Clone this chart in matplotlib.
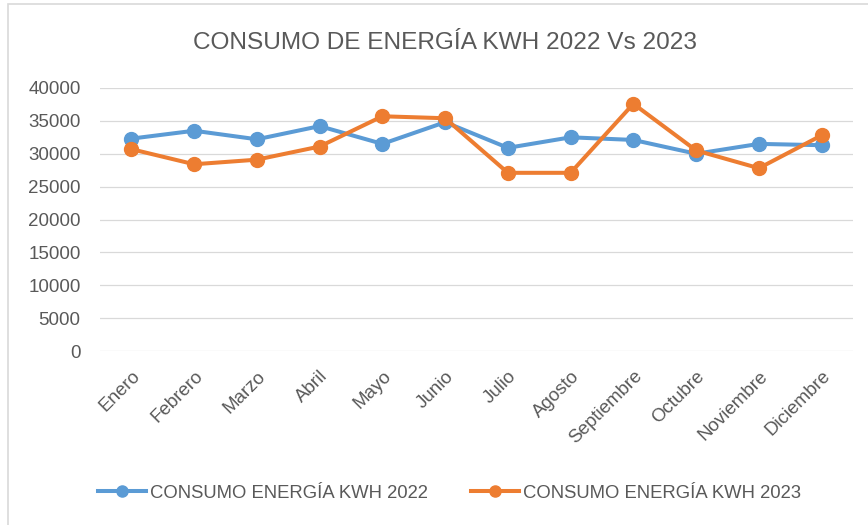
import matplotlib
matplotlib.use('Agg')
import matplotlib.pyplot as plt
from matplotlib.patches import Rectangle

meses = ['Enero', 'Febrero', 'Marzo', 'Abril', 'Mayo', 'Junio', 'Julio',
         'Agosto', 'Septiembre', 'Octubre', 'Noviembre', 'Diciembre']
kwh_2022 = [32300, 33500, 32200, 34200, 31500, 34800, 30900, 32500, 32100, 30000, 31500, 31300]
kwh_2023 = [30700, 28400, 29100, 31100, 35700, 35400, 27100, 27100, 37600, 30500, 27800, 32800]
yticks = [0, 5000, 10000, 15000, 20000, 25000, 30000, 35000, 40000]

label_2022 = 'CONSUMO ENERGÍA KWH 2022'
label_2023 = 'CONSUMO ENERGÍA KWH 2023'
titulo = 'CONSUMO DE ENERGÍA KWH 2022 Vs 2023'

plt.rcParams['font.family'] = ['Liberation Sans', 'DejaVu Sans']
txt = '#595959'
azul = '#5B9BD5'
naranja = '#ED7D31'

fig = plt.figure(figsize=(8.68, 5.25), dpi=100)
ax = fig.add_axes([100/868, 1-351/525, 753/868, 263/525])

x = list(range(len(meses)))
ax.plot(x, kwh_2022, color=azul, lw=2.9, marker='o', ms=10, label=label_2022, zorder=3)
ax.plot(x, kwh_2023, color=naranja, lw=2.9, marker='o', ms=10, label=label_2023, zorder=4)

ax.set_xlim(-0.5, len(meses) - 0.5)
ax.set_ylim(0, 40000)
ax.set_yticks(yticks)
ax.set_yticklabels([str(v) for v in yticks], fontsize=13.5, color=txt)
ax.set_xticks(x)
ax.set_xticklabels(meses, rotation=45, ha='right', rotation_mode='anchor',
                   fontsize=13.5, color=txt)
ax.tick_params(axis='y', length=0, pad=14)
ax.tick_params(axis='x', length=0, pad=12)
ax.grid(axis='y', color='#D9D9D9', lw=0.9)
ax.set_axisbelow(True)
for edge in ['left', 'right', 'top', 'bottom']:
    ax.spines[edge].set_visible(False)

fig.text(0.513, 1-43/525, titulo, ha='center', va='center', fontsize=17.6, color=txt)

fig.legend(loc='center', bbox_to_anchor=(0.518, 1-493/525), ncol=2, frameon=False,
           fontsize=13.3, labelcolor=txt, handlelength=2.6, handletextpad=0.25,
           columnspacing=2.3, markerscale=0.8)

# marco gris del grafico
fig.patches.append(Rectangle((8/868, -0.1), 1.0, 1.1 - 4/525, transform=fig.transFigure,
                             fill=False, edgecolor='#D9D9D9', lw=1.2))

plt.savefig('out.png', dpi=100)
